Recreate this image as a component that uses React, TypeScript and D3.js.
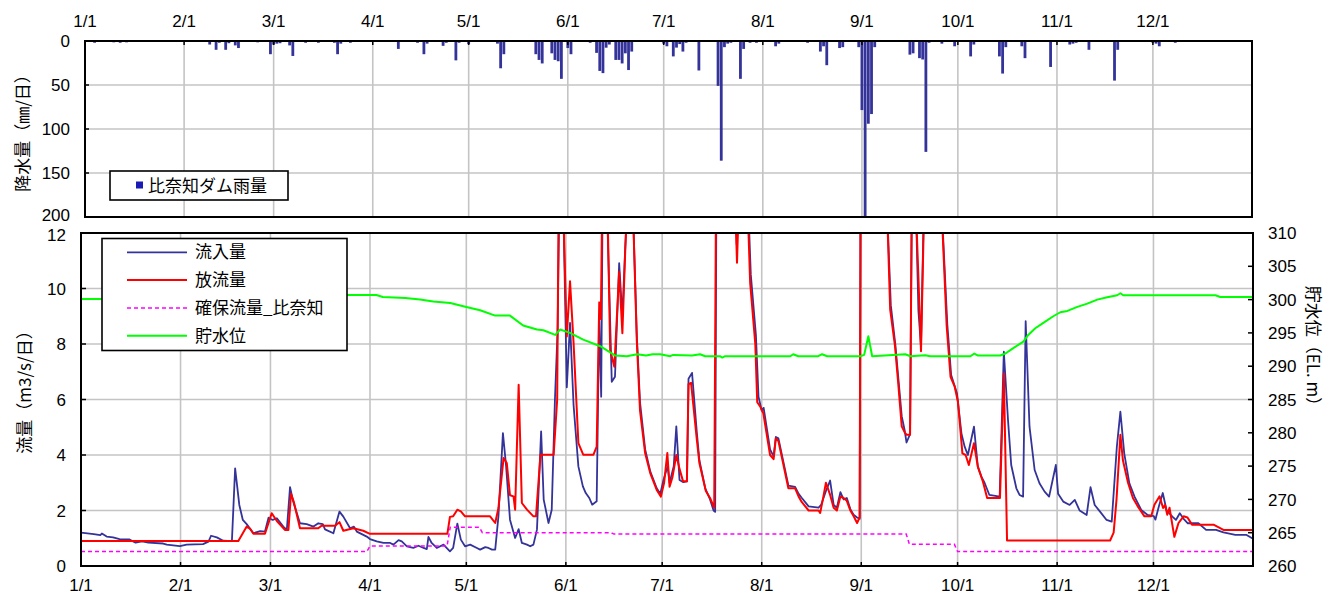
import React from 'react';
import * as d3 from 'd3';

// ---------- data ----------
const monthLabels = ['1/1', '2/1', '3/1', '4/1', '5/1', '6/1', '7/1', '8/1', '9/1', '10/1', '11/1', '12/1'];
const monthStartDays = [0, 31, 59, 90, 120, 151, 181, 212, 243, 273, 304, 334];
const rainTicks = [0, 50, 100, 150, 200];
const flowTicks = [0, 2, 4, 6, 8, 10, 12];
const levelTicks = [260, 265, 270, 275, 280, 285, 290, 295, 300, 305, 310];

// daily rainfall [day of year (0 = 1/1), mm]
const rainfall: [number, number][] = [
  [3, 2], [9, 1.5], [11, 2], [13, 1.5], [39, 4], [41, 10], [42, 2], [44, 10], [45, 2.5], [47, 5], [48, 8],
  [54, 1.5], [58, 15], [59, 4], [60, 3], [61, 2.5], [64, 5], [65, 17], [69, 2], [73, 2], [78, 2], [79, 15],
  [80, 3], [83, 2], [98, 9], [104, 2], [106, 15], [107, 3], [112, 5.5], [113, 2], [116, 22], [117, 2],
  [120, 3.5], [129, 3], [130, 31], [131, 15], [141, 15], [142, 21.5], [143, 25.5], [146, 14], [147, 21.5],
  [148, 23], [149, 43], [151, 8], [152, 15], [158, 2], [160, 13.5], [161, 34], [162, 36.5], [163, 7.6],
  [164, 4], [166, 21.5], [167, 21.5], [168, 25.5], [169, 14], [170, 33], [171, 12], [181, 3], [182, 6],
  [184, 17.5], [185, 7.5], [186, 3.5], [187, 12], [188, 2], [192, 33.5], [198, 51], [199, 136], [200, 7],
  [201, 3], [202, 2], [205, 43], [206, 9], [208, 2], [210, 2], [216, 6], [217, 3], [226, 2], [230, 12],
  [231, 6], [232, 27.5], [236, 8], [237, 7], [242, 7], [243, 78.5], [244, 205], [245, 94], [246, 83],
  [247, 7], [258, 15.5], [259, 14], [261, 19.5], [262, 21], [263, 126], [264, 2], [268, 3], [272, 6],
  [277, 17.5], [278, 4], [286, 17.5], [287, 37], [288, 7], [293, 6], [294, 19.5], [302, 29.5], [308, 4],
  [309, 3], [310, 2], [314, 10], [322, 45], [323, 10], [334, 2], [335, 3], [336, 6], [341, 2],
];

// inflow 流入量 [day, m3/s]
const inflow: [number, number][] = [
  [0, 1.2], [4, 1.15], [6, 1.11], [6.5, 1.17], [8, 1.06], [10, 1.03], [12, 0.97], [15, 0.96], [17, 0.84],
  [19, 0.89], [21, 0.84], [25.6, 0.81], [26.7, 0.77], [30.8, 0.72], [32.9, 0.77], [38, 0.79], [39.7, 0.88],
  [40.5, 1.09], [42.3, 1.03], [44.3, 0.91], [47, 0.9], [48, 3.52], [49.3, 2.2], [50.4, 1.66], [51.6, 1.51],
  [53.7, 1.18], [55.8, 1.26], [57.3, 1.24], [58.4, 1.74], [59.7, 1.66], [61, 1.72], [63, 1.42], [64.1, 1.3],
  [65.1, 2.84], [66.1, 2.32], [68.2, 1.54], [70.3, 1.51], [72.4, 1.42], [73.9, 1.54], [75.3, 1.51], [76, 1.32],
  [78.6, 1.18], [80.5, 1.96], [81.7, 1.78], [83.8, 1.36], [85, 1.42], [85.9, 1.24], [89, 1.06], [90, 0.97],
  [92.1, 0.89], [94.2, 0.83], [96.3, 0.83], [97.3, 0.77], [98.9, 0.93], [99.9, 0.89], [101.5, 0.71],
  [103.5, 0.65], [105.1, 0.73], [106.7, 0.65], [107.7, 0.61], [108.2, 1.05], [109.2, 0.83], [110.8, 0.65],
  [112.9, 0.77], [114.9, 0.53], [115.9, 0.65], [117.2, 1.53], [118.3, 0.95], [119.6, 0.71], [121.2, 0.77],
  [123.3, 0.65], [124.3, 0.59], [125.9, 0.68], [126.9, 0.65], [128, 0.59], [129, 0.59], [130, 1.79],
  [131.4, 4.79], [132.4, 3.59], [133.6, 1.67], [135.2, 1.01], [136.3, 1.33], [137.3, 0.83], [138.9, 0.77],
  [139.9, 0.71], [140.9, 0.77], [142, 1.31], [143.3, 4.85], [144.1, 2.39], [145.6, 1.55], [146.6, 2.03],
  [147.6, 5.99], [148.4, 8.4], [149.1, 14], [150.2, 13], [151.3, 6.44], [152.3, 8.76], [153.4, 5.8],
  [154.9, 3.59], [156.3, 2.87], [157.2, 2.63], [158.3, 2.45], [159.2, 2.21], [160.6, 2.33], [161.4, 9.0],
  [162.0, 6.1], [162.5, 14], [163.8, 13], [165.3, 6.64], [166.3, 6.82], [167.6, 10.91], [168.6, 9.0],
  [169.5, 11.5], [170.5, 14], [171.6, 14], [173.1, 8.3], [174.1, 5.9], [175.7, 4.2], [177.3, 3.4],
  [179.3, 2.8], [180.4, 2.6], [181.4, 3.1], [182.7, 3.6], [183.3, 3.0], [184.6, 3.6], [185.4, 5.03],
  [186.4, 3.1], [187.6, 3.02], [188.7, 3.05], [189.2, 6.75], [190.3, 6.96], [191.8, 4.8], [192.6, 3.8],
  [194.4, 2.8], [195.9, 2.4], [197.0, 2.0], [197.5, 1.95], [197.9, 14], [203.6, 14], [204.2, 11.6],
  [204.8, 14], [207.8, 13], [208.6, 10.5], [210.2, 8.3], [211.0, 6.1], [212.0, 5.6], [212.6, 5.7],
  [214.6, 4.2], [215.7, 3.95], [216.4, 4.65], [217.2, 4.6], [220.3, 2.9], [222.4, 2.85], [223.5, 2.6],
  [224.5, 2.45], [226.6, 2.15], [229.7, 2.1], [230.5, 2.2], [232.0, 2.7], [233.3, 3.08], [234.4, 2.2],
  [235.4, 2.1], [236.5, 2.66], [237.5, 2.4], [238.5, 2.45], [239.6, 2.05], [240.6, 1.85], [241.7, 1.75],
  [242.5, 1.7], [242.8, 14], [251, 13], [252.2, 9.4], [253.6, 8.0], [254.6, 6.7], [255.6, 5.4], [256.5, 4.9],
  [257.1, 4.45], [258.2, 4.75], [258.8, 14], [260, 13], [260.8, 9.2], [261.6, 7.9], [262.5, 13], [267.6, 14],
  [269.8, 8.7], [271, 6.88], [272.8, 6.22], [274.2, 4.78], [275.2, 4.3], [276.2, 4.0], [278.1, 5.02],
  [279.3, 3.58], [280.4, 3.22], [281.4, 3.0], [282.9, 2.56], [286.1, 2.5], [287.4, 7.72], [288.7, 5.26],
  [289.7, 3.64], [291.3, 2.8], [292.3, 2.56], [293.4, 2.5], [294.2, 8.82], [295.4, 5.02], [297, 3.46],
  [298.5, 2.98], [300.1, 2.68], [301.5, 2.5], [303.6, 3.64], [304.3, 2.6], [305.9, 2.32], [307.9, 2.2],
  [309.5, 2.38], [311, 2.0], [313.2, 1.84], [314.4, 2.84], [315.7, 2.2], [317.3, 1.97], [319.4, 1.66],
  [321, 1.6], [322.6, 4.3], [323.7, 5.56], [324.9, 4.06], [326.5, 2.98], [328.1, 2.5], [330.2, 2.02],
  [332.2, 1.84], [334.1, 1.8], [334.6, 1.67], [335.8, 2.2], [336.9, 2.63], [338.1, 2.0], [339.9, 1.78],
  [341, 1.66], [342.2, 1.9], [343.4, 1.7], [344.7, 1.54], [348, 1.54], [350.4, 1.3], [353.5, 1.3],
  [355.8, 1.21], [359.5, 1.12], [363, 1.12], [365, 0.98],
];

// outflow 放流量 [day, m3/s]
const outflow: [number, number][] = [
  [0, 0.9], [49, 0.9], [51.6, 1.42], [52.6, 1.35], [53.7, 1.16], [57.3, 1.16], [59.4, 1.9], [61, 1.62],
  [63.5, 1.3], [64.6, 1.3], [65.4, 2.6], [66.3, 2.3], [68.2, 1.36], [73.9, 1.36], [74.9, 1.45], [79.1, 1.45],
  [80.5, 1.58], [81.7, 1.27], [84.8, 1.36], [87.9, 1.27], [90, 1.16], [114.1, 1.16], [114.9, 1.77],
  [115.9, 1.79], [117.2, 2.03], [118.3, 1.97], [119.6, 1.79], [127.4, 1.79], [129, 1.55], [130, 2.09],
  [131.6, 3.89], [132.6, 3.71], [133.6, 2.55], [134.7, 2.51], [135.2, 2.03], [136.3, 6.53], [137.3, 2.27],
  [138.9, 2.03], [140.9, 1.79], [141.7, 1.79], [143.1, 4.01], [147.2, 4.01], [148.3, 6.0], [148.8, 14],
  [149.9, 14], [151.3, 8.27], [152.3, 10.26], [153.4, 8.04], [154.9, 4.43], [156.4, 4.01], [159.6, 4.01],
  [160.6, 4.3], [161.4, 9.5], [161.9, 8.9], [162.4, 14], [163.8, 14], [164.8, 7.78], [166.1, 7.18],
  [167.6, 10.6], [168.6, 8.39], [169.5, 11.39], [170.5, 14], [171.6, 14], [173.1, 8.1], [174.1, 5.6],
  [175.7, 4.06], [177.3, 3.34], [179.3, 2.74], [180.6, 2.5], [181.6, 3.0], [182.6, 4.07], [183.3, 2.86],
  [184.2, 3.2], [185.4, 4.0], [186.4, 3.5], [187.5, 3.05], [188.7, 3.05], [189.2, 6.55], [190.0, 6.6],
  [191.8, 4.54], [192.6, 3.7], [194.6, 2.7], [195.9, 2.45], [197.2, 2.1], [197.8, 14], [203.5, 14],
  [204.3, 10.93], [205.1, 14], [207.6, 13], [208.4, 10.2], [210.0, 8.0], [210.6, 5.9], [211.5, 5.75],
  [212.5, 5.5], [214.6, 4.0], [215.7, 3.85], [216.4, 4.6], [217.2, 4.5], [220.3, 2.8], [222.4, 2.8],
  [223.5, 2.5], [224.5, 2.3], [226.6, 2.0], [229.7, 2.0], [230.2, 1.91], [231.2, 2.5], [232.0, 3.0],
  [233.2, 2.6], [234.4, 2.1], [235.4, 2.0], [236.5, 2.5], [237.5, 2.45], [238.5, 2.35], [239.6, 2.0],
  [240.6, 1.8], [241.7, 1.55], [242.5, 1.75], [242.8, 14], [251, 13], [252, 9.25], [253.5, 7.93],
  [254.5, 6.6], [255.6, 5.03], [256.6, 4.8], [257.1, 4.73], [258.2, 4.73], [258.8, 14], [260, 13],
  [261.6, 7.74], [262.6, 13], [267.6, 14], [269.6, 8.65], [270.8, 6.82], [272.1, 6.46], [273.1, 5.93],
  [274.5, 4.06], [275.5, 4.0], [276.5, 3.64], [278.1, 4.42], [279.3, 3.58], [280.9, 3.04], [282.2, 2.45],
  [286.2, 2.45], [287.4, 6.94], [288.4, 0.92], [320.5, 0.92], [321.6, 1.2], [322.5, 2.4], [323.7, 4.73],
  [324.5, 3.8], [326.1, 2.99], [327.6, 2.45], [329.1, 2.15], [331.2, 1.79], [333.3, 1.79], [334.3, 2.21],
  [335.9, 2.51], [337, 2.09], [337.6, 2.2], [338.3, 1.85], [339, 2.1], [340.5, 1.05], [341.8, 1.55],
  [343.4, 1.79], [344.6, 1.75], [346, 1.49], [352.7, 1.49], [355.8, 1.3], [365, 1.3],
];

// 確保流量_比奈知 [day, m3/s]
const guaranteedFlow: [number, number][] = [
  [0, 0.52], [89, 0.52], [90, 0.72], [114, 0.72], [115, 1.4], [124, 1.4], [125, 1.2], [165, 1.2],
  [166, 1.15], [257, 1.15], [258, 0.78], [272, 0.78], [273, 0.52], [365, 0.52],
];

// 貯水位 [day, EL.m]
const storageLevel: [number, number][] = [
  [0, 300.1], [6, 300.1], [83, 300.7], [92, 300.7], [94, 300.4], [101, 300.25], [105.6, 300.0],
  [109.7, 299.7], [115, 299.5], [120, 298.9], [124.3, 298.4], [129, 297.6], [133.6, 297.6], [137.7, 296.1],
  [142, 295.5], [144, 295.4], [147.7, 294.7], [149.2, 295.5], [152.3, 295.0], [156.4, 294.0], [161.7, 293.0],
  [166.4, 291.6], [170, 291.5], [173.2, 291.8], [176, 291.6], [178, 291.8], [180.4, 291.8], [183.5, 291.5],
  [184.4, 291.7], [190.3, 291.6], [192.8, 291.8], [194.4, 291.5], [199, 291.5], [199.7, 291.3],
  [200.6, 291.5], [220.9, 291.5], [221.8, 291.8], [223.4, 291.5], [229.6, 291.5], [230.8, 291.8],
  [232.4, 291.5], [242.7, 291.5], [243.9, 291.7], [245.2, 294.5], [246.4, 291.5], [256.7, 291.8],
  [258.3, 291.5], [262.9, 291.65], [264.5, 291.5], [277, 291.5], [278.2, 291.9], [279.4, 291.6],
  [286.3, 291.6], [287.9, 291.9], [290, 292.6], [291.9, 293.2], [293.5, 293.7], [295, 294.7], [297.2, 295.7],
  [299.7, 296.5], [302.8, 297.5], [305, 298.1], [307.2, 298.3], [310.3, 298.9], [313.4, 299.4],
  [316.5, 300.0], [319.6, 300.35], [322.7, 300.65], [323.7, 300.95], [324.6, 300.65], [353.3, 300.65],
  [354.8, 300.4], [365, 300.4],
];

const seriesNames = ['流入量', '放流量', '確保流量_比奈知', '貯水位'];

// ---------- chart ----------
const FONT = "'Noto Sans CJK JP', 'Noto Sans', sans-serif";
const NUM_FONT = "'Liberation Sans', Arial, sans-serif";
const GRID = '#c4c4c4';

export default function App() {
  const W = 1337;
  const H = 601;
  const tp = { l: 85, r: 1252, t: 41, b: 217 };
  const bp = { l: 81, r: 1253, t: 233, b: 566 };

  const xTop = d3.scaleLinear().domain([0, 365]).range([tp.l, tp.r]);
  const yRain = d3.scaleLinear().domain([0, 200]).range([tp.t, tp.b]);
  const xBot = d3.scaleLinear().domain([0, 365]).range([bp.l, bp.r]);
  const yFlow = d3.scaleLinear().domain([0, 12]).range([bp.b, bp.t]);
  const yLevel = d3.scaleLinear().domain([260, 310]).range([bp.b, bp.t]);

  const flowLine = d3.line<[number, number]>().x((d) => xBot(d[0])).y((d) => yFlow(d[1]));
  const levelLine = d3.line<[number, number]>().x((d) => xBot(d[0])).y((d) => yLevel(d[1]));

  const barW = 2.8;
  const fs = 17;

  return (
    <svg
      width={W}
      height={H}
      viewBox={`0 0 ${W} ${H}`}
      style={{ position: 'absolute', left: 0, top: 0, background: '#fff' }}
      fontFamily={FONT}
    >
      <defs>
        <clipPath id="clipTop">
          <rect x={tp.l} y={tp.t} width={tp.r - tp.l} height={tp.b - tp.t} />
        </clipPath>
        <clipPath id="clipBot">
          <rect x={bp.l} y={bp.t} width={bp.r - bp.l} height={bp.b - bp.t} />
        </clipPath>
      </defs>
      <rect x={0} y={0} width={W} height={H} fill="#fff" />

      {/* ---------- TOP PANEL ---------- */}
      {monthStartDays.slice(1).map((d) => (
        <line key={'tgv' + d} x1={xTop(d)} x2={xTop(d)} y1={tp.t} y2={tp.b} stroke={GRID} strokeWidth={1.6} />
      ))}
      {rainTicks.slice(1, -1).map((v) => (
        <line key={'tgh' + v} x1={tp.l} x2={tp.r} y1={yRain(v)} y2={yRain(v)} stroke={GRID} strokeWidth={1.6} />
      ))}
      <g clipPath="url(#clipTop)">
        {rainfall.map(([d, mm]) => (
          <rect
            key={'r' + d}
            x={xTop(d) - barW / 2}
            y={tp.t}
            width={barW}
            height={yRain(mm) - tp.t}
            fill="#333399"
          />
        ))}
      </g>
      {/* ticks top panel */}
      {monthStartDays.map((d) => (
        <line key={'ttk' + d} x1={xTop(d)} x2={xTop(d)} y1={tp.t} y2={tp.t + 4} stroke="#000" strokeWidth={1.5} />
      ))}
      {rainTicks.map((v) => (
        <line key={'tlk' + v} x1={tp.l} x2={tp.l + 4} y1={yRain(v)} y2={yRain(v)} stroke="#000" strokeWidth={1.5} />
      ))}
      <rect x={tp.l} y={tp.t} width={tp.r - tp.l} height={tp.b - tp.t} fill="none" stroke="#000" strokeWidth={2} />
      {monthLabels.map((m, i) => (
        <text
          key={'tml' + m}
          x={xTop(monthStartDays[i])}
          y={27}
          fontSize={fs}
          fontFamily={NUM_FONT}
          textAnchor="middle"
          fill="#000"
        >
          {m}
        </text>
      ))}
      {rainTicks.map((v) => (
        <text
          key={'trl' + v}
          x={tp.l - 15}
          y={yRain(v) - (v === 200 ? 2 : 0)}
          dy="0.36em"
          fontSize={fs}
          fontFamily={NUM_FONT}
          textAnchor="end"
          fill="#000"
        >
          {v}
        </text>
      ))}
      <text
        transform={`translate(23,${(tp.t + tp.b) / 2}) rotate(-90)`}
        fontSize={fs}
        textAnchor="middle"
        dy="0.36em"
        fill="#000"
      >
        降水量（㎜/日）
      </text>
      {/* top legend */}
      <rect x={110} y={171} width={178} height={29} fill="#fff" stroke="#000" strokeWidth={1.6} />
      <rect x={136} y={181.5} width={7} height={7} fill="#1a1ab4" />
      <text x={148} y={185.5} dy="0.36em" fontSize={fs} fill="#000">
        比奈知ダム雨量
      </text>

      {/* ---------- BOTTOM PANEL ---------- */}
      {monthStartDays.slice(1).map((d) => (
        <line key={'bgv' + d} x1={xBot(d)} x2={xBot(d)} y1={bp.t} y2={bp.b} stroke={GRID} strokeWidth={1.6} />
      ))}
      {flowTicks.slice(1, -1).map((v) => (
        <line key={'bgh' + v} x1={bp.l} x2={bp.r} y1={yFlow(v)} y2={yFlow(v)} stroke={GRID} strokeWidth={1.6} />
      ))}
      <g clipPath="url(#clipBot)" fill="none">
        <path d={flowLine(inflow) || ''} stroke="#333399" strokeWidth={1.8} strokeLinejoin="round" />
        <path d={flowLine(outflow) || ''} stroke="#ff0000" strokeWidth={2} strokeLinejoin="round" />
        <path d={flowLine(guaranteedFlow) || ''} stroke="#ff00ff" strokeWidth={1.5} strokeDasharray="4,3" />
        <path d={levelLine(storageLevel) || ''} stroke="#00ff00" strokeWidth={2} strokeLinejoin="round" />
      </g>
      {/* ticks bottom panel */}
      {monthStartDays.map((d) => (
        <line key={'btk' + d} x1={xBot(d)} x2={xBot(d)} y1={bp.b} y2={bp.b - 4} stroke="#000" strokeWidth={1.5} />
      ))}
      {flowTicks.map((v) => (
        <line key={'blk' + v} x1={bp.l} x2={bp.l + 5} y1={yFlow(v)} y2={yFlow(v)} stroke="#000" strokeWidth={1.5} />
      ))}
      {levelTicks.map((v) => (
        <line key={'brk' + v} x1={bp.r} x2={bp.r - 5} y1={yLevel(v)} y2={yLevel(v)} stroke="#000" strokeWidth={1.5} />
      ))}
      <rect x={bp.l} y={bp.t} width={bp.r - bp.l} height={bp.b - bp.t} fill="none" stroke="#000" strokeWidth={2} />
      {monthLabels.map((m, i) => (
        <text
          key={'bml' + m}
          x={xBot(monthStartDays[i])}
          y={591}
          fontSize={fs}
          fontFamily={NUM_FONT}
          textAnchor="middle"
          fill="#000"
        >
          {m}
        </text>
      ))}
      {flowTicks.map((v) => (
        <text
          key={'bfl' + v}
          x={bp.l - 15}
          y={yFlow(v) + (v === 12 ? 2 : 0)}
          dy="0.36em"
          fontSize={fs}
          fontFamily={NUM_FONT}
          textAnchor="end"
          fill="#000"
        >
          {v}
        </text>
      ))}
      {levelTicks.map((v) => (
        <text
          key={'bll' + v}
          x={bp.r + 15}
          y={yLevel(v)}
          dy="0.36em"
          fontSize={fs}
          fontFamily={NUM_FONT}
          textAnchor="start"
          fill="#000"
        >
          {v}
        </text>
      ))}
      <text
        transform={`translate(25,388) rotate(-90)`}
        fontSize={fs}
        textAnchor="middle"
        dy="0.36em"
        fill="#000"
      >
        流量（m3/s/日）
      </text>
      <text
        transform={`translate(1313,350) rotate(90)`}
        fontSize={fs}
        textAnchor="middle"
        dy="0.36em"
        fill="#000"
      >
        貯水位（EL. m）
      </text>

      {/* bottom legend */}
      <rect x={102} y={238.5} width={245} height={112} fill="#fff" stroke="#000" strokeWidth={1.6} />
      {seriesNames.map((name, i) => {
        const y = 252.3 + i * 27.8;
        const color = ['#333399', '#ff0000', '#ff00ff', '#00ff00'][i];
        return (
          <g key={'lg' + name}>
            <line
              x1={127}
              x2={187}
              y1={y}
              y2={y}
              stroke={color}
              strokeWidth={i === 0 ? 1.8 : i === 2 ? 1.5 : 2}
              strokeDasharray={i === 2 ? '4,3' : undefined}
            />
            <text x={195} y={y} dy="0.36em" fontSize={fs} fill="#000">
              {name}
            </text>
          </g>
        );
      })}
    </svg>
  );
}
